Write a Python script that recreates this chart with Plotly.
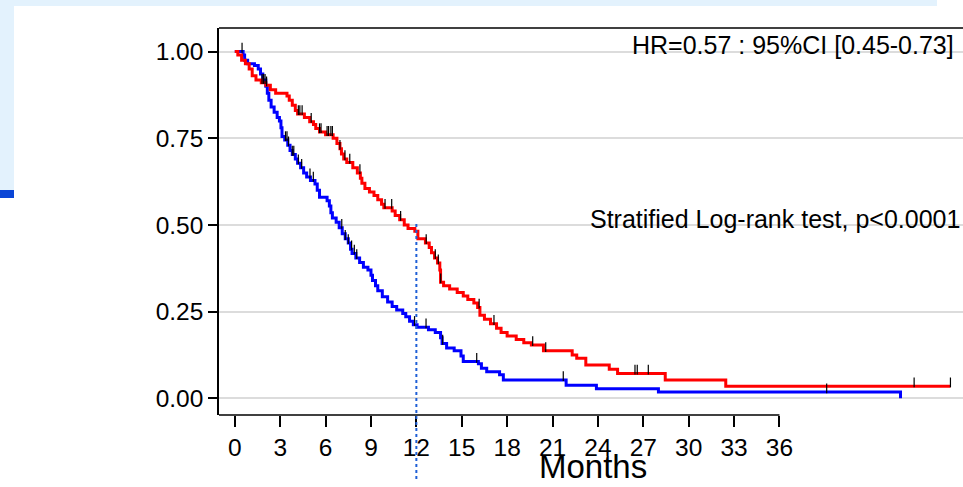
import plotly.graph_objects as go

# ---------------- data ----------------
red_t = [0, 0.2, 0.45, 0.7, 0.95, 1.15, 1.4, 1.75, 2.05, 2.35, 2.7, 3.45, 3.6, 3.8, 4.0, 4.15,
         4.6, 4.95, 5.2, 5.35, 5.6, 6.0, 6.5, 6.75, 6.95, 7.05, 7.2, 7.4, 7.8, 8.1, 8.3, 8.4,
         8.6, 8.9, 9.2, 9.45, 9.7, 9.85, 10.4, 10.6, 10.9, 11.2, 11.45, 11.9, 12.1, 12.6, 12.85,
         13.0, 13.2, 13.4, 13.55, 13.6, 13.8, 14.2, 14.7, 15.1, 15.4, 15.8, 16.05, 16.2, 16.5,
         16.9, 17.3, 17.6, 18.0, 18.6, 19.1, 19.6, 20.4, 22.3, 22.6, 23.2, 24.75, 25.3, 28.45,
         32.45, 47.3]
red_s = [1.0, 0.99, 0.975, 0.965, 0.95, 0.93, 0.918, 0.91, 0.903, 0.89, 0.88, 0.872, 0.86,
         0.845, 0.83, 0.82, 0.81, 0.798, 0.79, 0.778, 0.768, 0.76, 0.75, 0.735, 0.72, 0.705,
         0.69, 0.68, 0.665, 0.65, 0.635, 0.62, 0.605, 0.595, 0.585, 0.573, 0.56, 0.55, 0.54,
         0.527, 0.515, 0.5, 0.49, 0.482, 0.46, 0.448, 0.435, 0.42, 0.405, 0.39, 0.37, 0.335,
         0.325, 0.315, 0.305, 0.295, 0.285, 0.275, 0.262, 0.24, 0.228, 0.215, 0.202, 0.19,
         0.18, 0.17, 0.16, 0.154, 0.137, 0.125, 0.116, 0.096, 0.084, 0.072, 0.053, 0.035, 0.035]

blue_t = [0, 0.55, 0.65, 0.85, 1.3, 1.55, 1.7, 1.85, 2.05, 2.15, 2.25, 2.4, 2.6, 2.8, 2.95,
          3.05, 3.12, 3.3, 3.5, 3.65, 3.8, 4.0, 4.15, 4.35, 4.55, 4.75, 5.0, 5.3, 5.45, 5.6,
          6.1, 6.25, 6.35, 6.45, 6.7, 6.9, 7.1, 7.3, 7.5, 7.65, 7.75, 8.0, 8.25, 8.5, 8.8,
          9.0, 9.1, 9.3, 9.45, 9.75, 10.1, 10.4, 10.7, 11.1, 11.3, 11.55, 11.8, 12.05, 12.8,
          13.25, 13.6, 13.7, 14.0, 14.5, 14.95, 15.1, 16.1, 16.3, 16.65, 17.5, 17.75, 21.9,
          23.9, 28.0, 44.0]
blue_s = [1.0, 0.99, 0.975, 0.965, 0.96, 0.95, 0.935, 0.918, 0.9, 0.88, 0.86, 0.84, 0.825,
          0.81, 0.8, 0.78, 0.755, 0.745, 0.73, 0.715, 0.703, 0.69, 0.678, 0.665, 0.65, 0.638,
          0.628, 0.618, 0.6, 0.58, 0.57, 0.555, 0.535, 0.52, 0.508, 0.492, 0.475, 0.46, 0.448,
          0.43, 0.418, 0.405, 0.392, 0.378, 0.37, 0.355, 0.34, 0.325, 0.31, 0.293, 0.278,
          0.265, 0.255, 0.245, 0.235, 0.222, 0.212, 0.205, 0.198, 0.19, 0.175, 0.158, 0.145,
          0.137, 0.122, 0.106, 0.1, 0.087, 0.077, 0.068, 0.053, 0.038, 0.028, 0.018, 0.0]

red_cens = [1.8, 1.9, 2.0, 2.1, 4.2, 4.3, 4.45, 5.05, 5.6, 5.7, 6.1, 6.2, 6.35, 6.45, 6.95,
            7.28, 7.6, 8.27, 9.93, 10.37, 10.96, 12.65, 13.25, 13.45, 13.61, 16.15, 17.13,
            19.69, 20.55, 26.45, 26.6, 27.33, 44.9, 47.3]
blue_cens = [0.48, 3.35, 3.45, 3.55, 3.8, 3.9, 4.2, 4.42, 4.97, 5.19, 7.07, 7.3, 7.5, 7.72,
             7.9, 8.06, 11.88, 12.64, 13.74, 15.99, 21.71, 39.12]

x_ticks = [0, 3, 6, 9, 12, 15, 18, 21, 24, 27, 30, 33, 36]
y_ticks = [0, 0.25, 0.5, 0.75, 1.0]
y_labels = ["0.00", "0.25", "0.50", "0.75", "1.00"]
hr_text = "HR=0.57 : 95%CI [0.45-0.73]"
lr_text = "Stratified Log-rank test, p<0.0001"
x_title = "Months"
landmark = 12

# ---------------- helpers ----------------
def surv_at(ts, ss, t):
    v = ss[0]
    for ti, si in zip(ts, ss):
        if ti <= t:
            v = si
        else:
            break
    return v

W, H = 963, 487
L, R, T, B = 219, 0, 28, 72
XR = [-1.044, 48.13]
YR = [-0.048, 1.068]
pw, ph = W - L - R, H - T - B

def px2paper_x(px):
    return (px - L) / pw

def px2paper_y(py):
    return (H - B - py) / ph

def data2paper_y(v):
    return (v - YR[0]) / (YR[1] - YR[0])

FONT = "Liberation Sans, Arial, sans-serif"

fig = go.Figure()

fig.add_trace(go.Scatter(x=blue_t, y=blue_s, mode="lines", line=dict(color="#0000ff", width=3, shape="hv"),
                         showlegend=False, hoverinfo="skip"))
fig.add_trace(go.Scatter(x=red_t, y=red_s, mode="lines", line=dict(color="#ff0000", width=3, shape="hv"),
                         showlegend=False, hoverinfo="skip"))

off = 0.011
fig.add_trace(go.Scatter(x=red_cens, y=[surv_at(red_t, red_s, t) + off for t in red_cens], mode="markers",
                         marker=dict(symbol="line-ns", size=7, line=dict(color="black", width=1.2)),
                         showlegend=False, hoverinfo="skip"))
fig.add_trace(go.Scatter(x=blue_cens, y=[surv_at(blue_t, blue_s, t) + off for t in blue_cens], mode="markers",
                         marker=dict(symbol="line-ns", size=7, line=dict(color="black", width=1.2)),
                         showlegend=False, hoverinfo="skip"))

shapes = []
# page decoration (light blue band and blue bar at left)
shapes.append(dict(type="rect", xref="paper", yref="paper", x0=px2paper_x(0), x1=px2paper_x(937),
                   y0=px2paper_y(6), y1=px2paper_y(0), fillcolor="#e3f2fd", line=dict(width=0), layer="below"))
shapes.append(dict(type="rect", xref="paper", yref="paper", x0=px2paper_x(0), x1=px2paper_x(14),
                   y0=px2paper_y(190), y1=px2paper_y(0), fillcolor="#e3f2fd", line=dict(width=0), layer="below"))
shapes.append(dict(type="rect", xref="paper", yref="paper", x0=px2paper_x(0), x1=px2paper_x(14),
                   y0=px2paper_y(198), y1=px2paper_y(190), fillcolor="#0a45d6", line=dict(width=0), layer="below"))
# frame: top line across, bottom axis line up to 36
shapes.append(dict(type="line", xref="paper", yref="paper", x0=0, x1=1, y0=1, y1=1,
                   line=dict(color="black", width=1.5)))
shapes.append(dict(type="line", xref="x", yref="paper", x0=XR[0], x1=x_ticks[-1], y0=0, y1=0,
                   line=dict(color="black", width=1.5)))
# landmark dotted line at 12 months
shapes.append(dict(type="line", xref="x", yref="paper", x0=landmark, x1=landmark,
                   y0=px2paper_y(479), y1=data2paper_y(0.51),
                   line=dict(color="#1f5fd6", width=2, dash="dot")))

fig.update_layout(
    width=W, height=H,
    margin=dict(l=L, r=R, t=T, b=B, pad=0),
    paper_bgcolor="white", plot_bgcolor="white",
    font=dict(family=FONT, color="black", size=24),
    shapes=shapes,
    annotations=[
        dict(text=hr_text, xref="paper", yref="paper", x=px2paper_x(956), y=px2paper_y(45),
             xanchor="right", yanchor="middle", showarrow=False, font=dict(size=25, family=FONT)),
        dict(text=lr_text, xref="paper", yref="paper", x=px2paper_x(962), y=px2paper_y(219),
             xanchor="right", yanchor="middle", showarrow=False, font=dict(size=25, family=FONT)),
        dict(text=x_title, xref="paper", yref="paper", x=px2paper_x(593), y=px2paper_y(487),
             xanchor="center", yanchor="bottom", showarrow=False, font=dict(size=33, family=FONT)),
    ],
)

fig.update_xaxes(range=XR, tickmode="array", tickvals=x_ticks, ticktext=[str(v) for v in x_ticks],
                 showgrid=False, zeroline=False, showline=False, ticks="outside", ticklen=11,
                 tickwidth=1.5, tickcolor="black", tickfont=dict(size=24.5, family=FONT))
fig.update_yaxes(range=YR, tickmode="array", tickvals=y_ticks, ticktext=y_labels,
                 showgrid=True, gridcolor="#dcdcdc", gridwidth=2, zeroline=False,
                 showline=True, linecolor="black", linewidth=1.5, ticks="outside", ticklen=9,
                 tickwidth=1.5, tickcolor="black", tickfont=dict(size=24.5, family=FONT))

fig.write_html("out.html", config={"displayModeBar": False},
               post_script="document.body.style.margin='0';document.body.style.overflow='hidden';")
